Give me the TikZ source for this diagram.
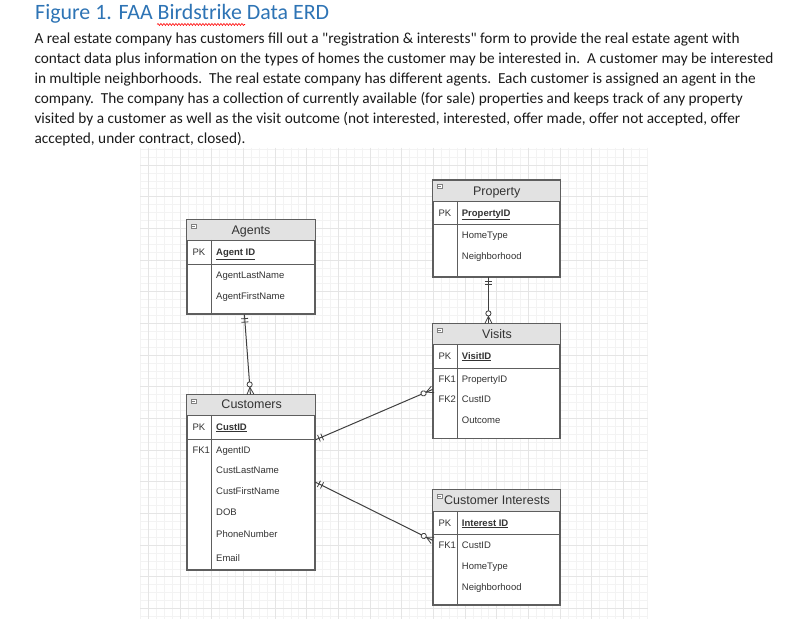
\documentclass[tikz,border=0pt]{standalone}
\usepackage{fontspec}
\setmainfont{Carlito}[Ligatures=TeXOff]
\newfontfamily\tblfont{Liberation Sans}
\usetikzlibrary{calc,fit,decorations.markings,decorations.pathmorphing}
\definecolor{headblue}{HTML}{2E74B5}
\definecolor{bodytxt}{HTML}{1A1A1A}
\definecolor{tblborder}{HTML}{5E5E5E}
\definecolor{hdrgray}{HTML}{E2E2E2}
\definecolor{tbltext}{HTML}{333333}
\definecolor{gridminor}{HTML}{F3F3F3}
\definecolor{gridmajor}{HTML}{E5E5E5}
\definecolor{conn}{HTML}{404040}
\newcommand{\ertable}[8]{%
  \node[tbl, fit={(#2,#3) (#4,#5)}] (#1) {};
  \fill[hdrgray] (#2,#3) rectangle (#4,#6);
  \draw[tblline] (#2,#6) -- (#4,#6) (#2,#7) -- (#4,#7) (#8,#6) -- (#8,#5);
  \draw[tblborder, line width=1.2pt] (#1.north west) rectangle (#1.south east);
  \draw[gray, line width=0.5pt, fill=white] ($(#1.north west)+(4.5,4.5)$) rectangle ++(5,4);
  \draw[gray, line width=0.5pt] ($(#1.north west)+(5.5,6.5)$) -- ++(3,0);
}
\newcommand{\fld}[4]{\node[fldstyle] (#1) at (#2,#3+3.4) {#4};}
\newcommand{\ttl}[4]{\node[ttlstyle] (#1) at (#2,#3+4.5) {#4};}
\begin{document}
\begin{tikzpicture}[x=1pt,y=-1pt,
  tbl/.style={draw=tblborder, line width=1.2pt, fill=white, inner sep=0pt},
  tblline/.style={draw=tblborder, line width=0.9pt},
  fldstyle/.style={anchor=base west, inner sep=0pt, text=tbltext, font=\tblfont\fontsize{9.5}{11}\selectfont},
  ttlstyle/.style={anchor=base, inner sep=0pt, text=tbltext, font=\tblfont\fontsize{12.5}{14}\selectfont},
  bodyline/.style={anchor=base west, inner sep=0pt, text=bodytxt, font=\fontsize{15.3}{18}\selectfont},
  rel/.style={draw=conn, line width=1pt},
  onestart/.style={postaction={decorate, decoration={markings,
     mark=at position 4pt with {\draw[conn, line width=0.8pt] (0,-3.5pt) -- (0,3.5pt);},
     mark=at position 7.5pt with {\draw[conn, line width=0.8pt] (0,-3.5pt) -- (0,3.5pt);}}}},
  zmanyend/.style={postaction={decorate, decoration={markings,
     mark=at position 1 with {\draw[conn, line width=0.8pt] (-7pt,0) -- (0,3.5pt) (-7pt,0) -- (0,-3.5pt);
        \draw[conn, line width=0.8pt, fill=white] (-10pt,0) circle (2.6pt);}}}}
]
\useasboundingbox (0,0) rectangle (812,636);
\fill[white] (0,0) rectangle (812,636);

% background grid
\begin{scope}
  \clip (140,148) rectangle (648,619);
  \foreach \i in {0,...,64} { \draw[gridminor, line width=0.6pt] ({140.4+7.917*\i},148) -- ++(0,471); }
  \foreach \j in {0,...,59} { \draw[gridminor, line width=0.6pt] (140,{149.2+7.917*\j}) -- ++(508,0); }
  \foreach \i in {0,...,15} { \draw[gridmajor, line width=0.8pt] ({148.3+31.67*\i},148) -- ++(0,471); }
  \foreach \j in {0,...,14} { \draw[gridmajor, line width=0.8pt] (140,{165+31.67*\j}) -- ++(508,0); }
\end{scope}

% heading and text
\node[anchor=base west, inner sep=0pt, text=headblue, font=\fontsize{21.9}{26}\selectfont] (title) at (35,20) {Figure 1. FAA Birdstrike Data ERD};
\draw[red, line width=0.6pt, decorate, decoration={snake, amplitude=1pt, segment length=3pt}] (157,24.5) -- (245,24.5);
\node[bodyline] (l1) at (34.3,43.3) {A real estate company has customers fill out a "registration \& interests" form to provide the real estate agent with};
\node[bodyline] (l2) at (34.3,63.4) {contact data plus information on the types of homes the customer may be interested in.\ \ A customer may be interested};
\node[bodyline] (l3) at (34.3,83.6) {in multiple neighborhoods.\ \ The real estate company has different agents.\ \ Each customer is assigned an agent in the};
\node[bodyline] (l4) at (34.3,103.8) {company.\ \ The company has a collection of currently available (for sale) properties and keeps track of any property};
\node[bodyline] (l5) at (34.3,123.9) {visited by a customer as well as the visit outcome (not interested, interested, offer made, offer not accepted, offer};
\node[bodyline] (l6) at (34.3,144) {accepted, under contract, closed).};

% Agents
\ertable{agents}{187.3}{220}{314.7}{314}{240}{264.3}{211.7}
\ttl{agt}{251}{230}{Agents}
\fld{agpk}{192.3}{252}{PK}
\fld{ag1}{216}{252}{\textbf{\underline{Agent ID}}}
\fld{ag2}{216}{275}{AgentLastName}
\fld{ag3}{216}{296}{AgentFirstName}

% Property
\ertable{property}{433.3}{180.7}{560}{276.7}{201}{224}{457.3}
\ttl{prt}{496.7}{190.7}{Property}
\fld{prpk}{438.3}{212.7}{PK}
\fld{pr1}{461.7}{212.7}{\textbf{\underline{PropertyID}}}
\fld{pr2}{461.7}{235.3}{HomeType}
\fld{pr3}{461.7}{256}{Neighborhood}

% Visits
\ertable{visits}{433.3}{324}{560}{438.3}{344.3}{368.3}{457.3}
\ttl{vit}{497}{334}{Visits}
\fld{vipk}{438.3}{355.7}{PK}
\fld{vi1}{461.7}{355.7}{\textbf{\underline{VisitID}}}
\fld{vifk1}{438.3}{379.3}{FK1}
\fld{vi2}{461.7}{379.3}{PropertyID}
\fld{vifk2}{438.3}{399.3}{FK2}
\fld{vi3}{461.7}{399.3}{CustID}
\fld{vi4}{461.7}{420}{Outcome}

% Customers
\ertable{customers}{187.3}{395}{314.7}{569.3}{415}{439.3}{211.7}
\ttl{cut}{251.7}{404.3}{Customers}
\fld{cupk}{192.3}{426.7}{PK}
\fld{cu1}{216}{426.7}{\textbf{\underline{CustID}}}
\fld{cufk1}{192.3}{450}{FK1}
\fld{cu2}{216}{450}{AgentID}
\fld{cu3}{216}{470}{CustLastName}
\fld{cu4}{216}{490.7}{CustFirstName}
\fld{cu5}{216}{511.7}{DOB}
\fld{cu6}{216}{534.3}{PhoneNumber}
\fld{cu7}{216}{557.7}{Email}

% Customer Interests
\ertable{interests}{433.3}{490}{560}{605}{511}{534.3}{457.3}
\ttl{cit}{497}{500}{Customer Interests}
\fld{cipk}{438.3}{522.7}{PK}
\fld{ci1}{461.7}{522.7}{\textbf{\underline{Interest ID}}}
\fld{cifk1}{438.3}{545}{FK1}
\fld{ci2}{461.7}{545}{CustID}
\fld{ci3}{461.7}{566}{HomeType}
\fld{ci4}{461.7}{586.7}{Neighborhood}

% connector end points on the tables
\coordinate (ac1) at ($(agents.south west)+(57.7,0)$);
\coordinate (ac2) at ($(customers.north west)+(63.7,0)$);
\coordinate (pv1) at ($(property.south west)+(55.7,0)$);
\coordinate (pv2) at ($(visits.north west)+(55.7,0)$);
\coordinate (cv1) at ($(customers.north east)+(0,45.5)$);
\coordinate (cv2) at ($(visits.north west)+(0,66)$);
\coordinate (ci1e) at ($(customers.north east)+(0,87.7)$);
\coordinate (ci2e) at ($(interests.north west)+(0,51)$);

\draw[rel, onestart, zmanyend] (ac1) -- (ac2);
\draw[rel, onestart, zmanyend] (pv1) -- (pv2);
\draw[rel, onestart, zmanyend] (cv1) -- (cv2);
\draw[rel, onestart, zmanyend] (ci1e) -- (ci2e);
\end{tikzpicture}
\end{document}
